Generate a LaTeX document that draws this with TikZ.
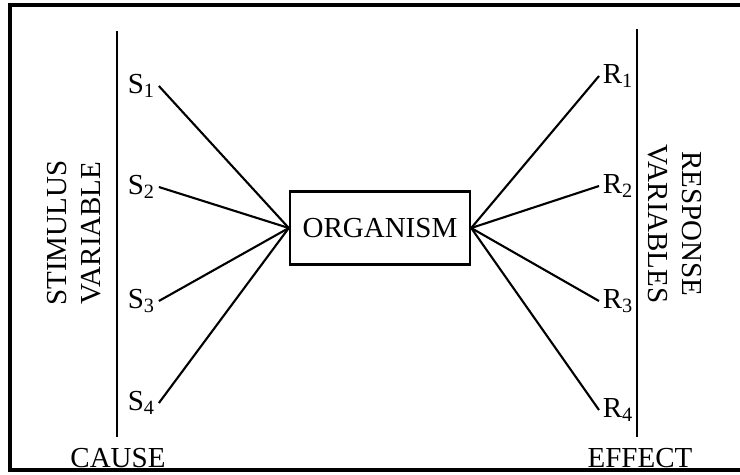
\documentclass[tikz,border=0pt]{standalone}
\usepackage{fontspec}
\setmainfont{Liberation Serif}
\usetikzlibrary{positioning}

\begin{document}
\begin{tikzpicture}[x=0.02cm, y=-0.02cm, font=\fontsize{16.5}{19}\selectfont,
  var/.style={inner sep=2pt},
  link/.style={line width=1.2pt}]
  \useasboundingbox (0,0) rectangle (740,474);
  \draw[line width=1.8pt] (740,5) -- (10,5) -- (10,470) -- (740,470); % frame, open at right
  \draw[line width=1.4pt] (117,31) -- (117,437);   % cause axis
  \draw[line width=1.4pt] (637,29) -- (637,437);   % effect axis
  \node[draw, line width=1.4pt, minimum width=3.6cm, minimum height=1.46cm] (org) at (380,228) {ORGANISM};
  % stimuli
  \node[var, anchor=west] (s1) at (124,86) {S\textsubscript{1}};
  \node[var, anchor=west] (s2) at (124,187) {S\textsubscript{2}};
  \node[var, anchor=west] (s3) at (124,301) {S\textsubscript{3}};
  \node[var, anchor=west] (s4) at (124,403) {S\textsubscript{4}};
  % responses
  \node[var, anchor=west] (r1) at (599,76) {R\textsubscript{1}};
  \node[var, anchor=west] (r2) at (599,186) {R\textsubscript{2}};
  \node[var, anchor=west] (r3) at (599,301) {R\textsubscript{3}};
  \node[var, anchor=west] (r4) at (599,410) {R\textsubscript{4}};
  \foreach \i in {1,...,4} {
    \draw[link] (s\i.east) -- (org.west);
    \draw[link] (org.east) -- (r\i.west);
  }
  \node[rotate=90, align=center] (stim) at (74,233) {STIMULUS\\VARIABLE};
  \node[rotate=-90, align=center] (resp) at (675,224) {RESPONSE\\VARIABLES};
  \node (cause) at (118,458) {CAUSE};
  \node (effect) at (640,458) {EFFECT};
\end{tikzpicture}
\end{document}
